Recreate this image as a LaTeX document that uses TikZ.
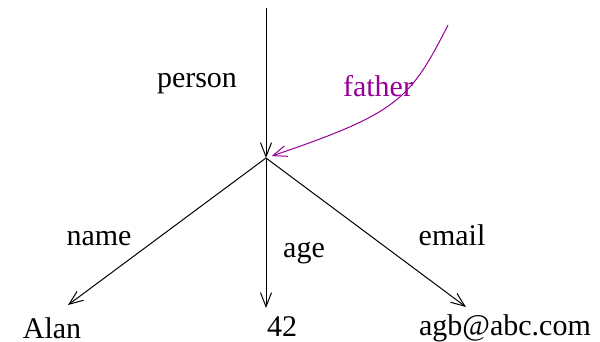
\documentclass[tikz,border=0pt]{standalone}
\usepackage{fontspec}
\setmainfont{Liberation Serif}
\usepackage{xcolor}
\usetikzlibrary{arrows.meta}
\definecolor{fathercol}{RGB}{150,0,150}

\begin{document}
\begin{tikzpicture}[
  x=0.5pt,y=-0.5pt,
  line width=0.5pt,
  font=\fontsize{15}{18}\selectfont,
  edge/.style={-{Straight Barb[length=7pt,width=5.5pt]}},
  lbl/.style={anchor=base,inner sep=0pt},
  leaf/.style={anchor=base,inner sep=0pt}
]
  \useasboundingbox (0,0) rectangle (600,342);
  \coordinate (top) at (266,8);
  \coordinate (obj) at (266,158);
  \coordinate (from) at (448,25);
  \node[leaf] (alan) at (52,338) {Alan};
  \node[leaf] (age42) at (282,336) {42};
  \node[leaf] (mail) at (505,335) {agb@abc.com};
  \draw[edge] (top) -- (obj);
  \draw[edge,fathercol,shorten >=3pt] (from) .. controls (410,100) and (398,113) .. (obj);
  \draw[edge] (obj) -- ([xshift=8pt,yshift=16.5pt]alan.base);
  \draw[edge] (obj) -- ([xshift=-8pt,yshift=14pt]age42.base);
  \draw[edge] (obj) -- ([xshift=-19.5pt,yshift=14pt]mail.base);
  \node[lbl] (person) at (197,88) {person};
  \node[lbl,text=fathercol] (father) at (378,97) {father};
  \node[lbl] (name) at (99,245) {name};
  \node[lbl] (age) at (304,257) {age};
  \node[lbl] (email) at (452,245) {email};
\end{tikzpicture}
\end{document}
